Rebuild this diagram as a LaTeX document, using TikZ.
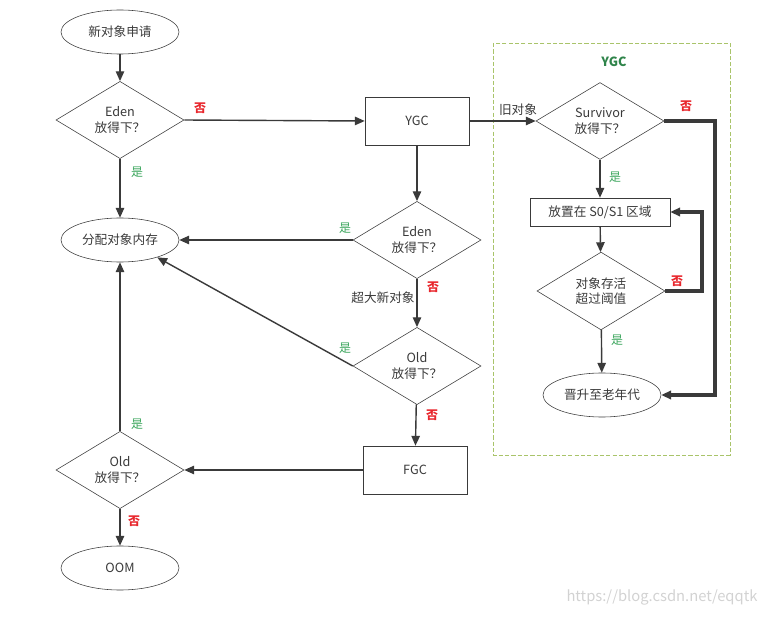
\documentclass[tikz,border=0pt]{standalone}
\usepackage{fontspec}
\setmainfont{Noto Sans CJK SC}
\usetikzlibrary{shapes.geometric,arrows.meta}
\definecolor{nored}{HTML}{E8262C}
\definecolor{yesgreen}{HTML}{3BA55C}
\definecolor{boxgreen}{HTML}{A9C46A}
\definecolor{ink}{HTML}{3A3A3A}
\tikzset{
  oval/.style={ellipse,draw=ink,thin,minimum width=2.95cm,minimum height=1.1cm,inner sep=0pt},
  cond/.style={diamond,draw=ink,thin,minimum width=3.2cm,minimum height=1.65cm,inner sep=0pt,align=center},
  proc/.style={rectangle,draw=ink,thin,minimum width=2.6cm,minimum height=1.2cm},
  flow/.style={draw=ink,line width=1pt,-{Triangle[length=7pt,width=6pt]}},
  loopflow/.style={flow,line width=2.2pt},
  yes/.style={text=yesgreen,font=\fontsize{8.5}{10}\selectfont},
  no/.style={text=nored,font=\fontsize{8.5}{10}\selectfont\bfseries},
}

\begin{document}
\begin{tikzpicture}[x=0.025cm,y=-0.025cm,font=\fontsize{9}{11}\selectfont,text=ink]
\useasboundingbox (0,0) rectangle (779,617);
% left column
\node[oval] (new) at (120,32) {新对象申请};
\node[cond] (eden1) at (120,120) {Eden\\放得下？};
\node[oval] (alloc) at (120,240) {分配对象内存};
\node[cond] (old1) at (120,470) {Old\\放得下？};
\node[oval] (oom) at (120,568) {OOM};
% middle column
\node[proc] (ygc) at (417,121) {YGC};
\node[cond] (eden2) at (417,240) {Eden\\放得下？};
\node[cond] (old2) at (417,366) {Old\\放得下？};
\node[proc] (fgc) at (415,470) {FGC};
% YGC region
\draw[boxgreen,dashed,dash pattern=on 3pt off 1.5pt] (493,43) rectangle (730,455);
\node[text=yesgreen!80!black,font=\fontsize{9}{11}\selectfont\bfseries] (ygctitle) at (614,62) {YGC};
\node[cond] (surv) at (600,121) {Survivor\\放得下？};
\node[proc,minimum width=3.5cm,minimum height=0.7cm] (s01) at (600,212) {放置在 S0/S1 区域};
\node[cond] (age) at (601,291) {对象存活\\超过阈值};
\node[oval] (promote) at (602,395) {晋升至老年代};
\coordinate (survR) at (715,121);
\coordinate (ageR) at (702,212);

\draw[flow] (new) -- (eden1);
\draw[flow] (eden1) -- (alloc);
\draw[flow] (eden1.east) -- (ygc.west);
\draw[flow] (ygc) -- (eden2);
\draw[flow] (eden2.west) -- (alloc.east);
\draw[flow] (eden2) -- (old2);
\draw[flow] (old2.west) -- (alloc.-25);
\draw[flow] (old2) -- (fgc);
\draw[flow] (fgc.west) -- (old1.east);
\draw[flow] (old1) -- (alloc);
\draw[flow] (old1) -- (oom);
\draw[flow] (ygc.east) -- (surv.west);
\draw[flow] (surv) -- (s01);
\draw[flow] (s01) -- (age);
\draw[flow] (age) -- (promote);
\draw[loopflow] (surv.east) -- (survR) |- (promote.east);
\draw[loopflow] (age.east) -| (ageR) -- (s01.east);

% labels
\node[no] (n1) at (200,108) {否};
\node[yes] (y1) at (137,172) {是};
\node[yes] (y2) at (345,228) {是};
\node[no] (n2) at (433,287) {否};
\node (big) at (383,298) {超大新对象};
\node[yes] (y3) at (345,348) {是};
\node[no] (n3) at (432,415) {否};
\node[yes] (y4) at (137,424) {是};
\node[no] (n4) at (134,521) {否};
\node (old) at (518,110) {旧对象};
\node[no] (n5) at (686,106) {否};
\node[yes] (y5) at (615,177) {是};
\node[no] (n6) at (677,281) {否};
\node[yes] (y6) at (617,340) {是};
\node[text=gray!35,font=\fontsize{10.5}{12}\selectfont] (mark) at (662,597) {https://blog.csdn.net/eqqtk};
\end{tikzpicture}
\end{document}
